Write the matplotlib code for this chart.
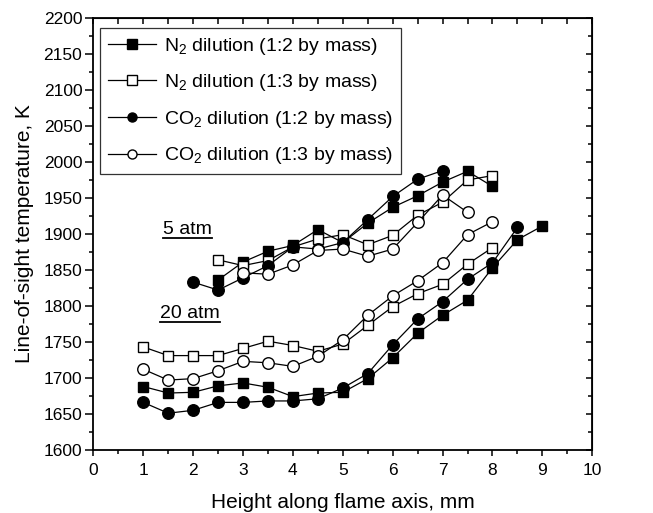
import numpy as np
import matplotlib
matplotlib.use("Agg")
import matplotlib.pyplot as plt
from matplotlib.ticker import MultipleLocator

plt.rcParams["font.family"] = ["Liberation Sans", "DejaVu Sans"]
plt.rcParams["mathtext.fontset"] = "custom"
plt.rcParams["mathtext.rm"] = "Liberation Sans"
plt.rcParams["mathtext.it"] = "Liberation Sans:italic"

# 5 atm data
x5_n2_12 = [2.5, 3, 3.5, 4, 4.5, 5, 5.5, 6, 6.5, 7, 7.5, 8]
t5_n2_12 = [1836, 1861, 1876, 1884, 1906, 1888, 1915, 1937, 1953, 1972, 1987, 1966]
x5_n2_13 = [2.5, 3, 3.5, 4, 4.5, 5, 5.5, 6, 6.5, 7, 7.5, 8]
t5_n2_13 = [1864, 1856, 1863, 1882, 1893, 1899, 1885, 1898, 1926, 1944, 1975, 1981]
x5_co2_12 = [2, 2.5, 3, 3.5, 4, 4.5, 5, 5.5, 6, 6.5, 7]
t5_co2_12 = [1833, 1822, 1839, 1856, 1882, 1879, 1888, 1920, 1952, 1976, 1988]
x5_co2_13 = [3, 3.5, 4, 4.5, 5, 5.5, 6, 6.5, 7, 7.5]
t5_co2_13 = [1846, 1844, 1857, 1877, 1879, 1869, 1879, 1916, 1954, 1930]

# 20 atm data
x20_n2_12 = [1, 1.5, 2, 2.5, 3, 3.5, 4, 4.5, 5, 5.5, 6, 6.5, 7, 7.5, 8, 8.5, 9]
t20_n2_12 = [1688, 1679, 1680, 1689, 1693, 1687, 1674, 1679, 1680, 1699, 1728,
             1762, 1787, 1808, 1853, 1892, 1911]
x20_n2_13 = [1, 1.5, 2, 2.5, 3, 3.5, 4, 4.5, 5, 5.5, 6, 6.5, 7, 7.5, 8]
t20_n2_13 = [1743, 1731, 1731, 1731, 1741, 1751, 1745, 1737, 1747, 1773, 1799,
             1817, 1830, 1858, 1881]
x20_co2_12 = [1, 1.5, 2, 2.5, 3, 3.5, 4, 4.5, 5, 5.5, 6, 6.5, 7, 7.5, 8, 8.5]
t20_co2_12 = [1666, 1651, 1655, 1666, 1666, 1668, 1668, 1671, 1686, 1706, 1746,
              1782, 1806, 1837, 1860, 1909]
x20_co2_13 = [1, 1.5, 2, 2.5, 3, 3.5, 4, 4.5, 5, 5.5, 6, 6.5, 7, 7.5, 8]
t20_co2_13 = [1712, 1697, 1699, 1710, 1723, 1721, 1716, 1730, 1753, 1787, 1814,
              1835, 1860, 1899, 1917]

labels = [r"N$_2$ dilution (1:2 by mass)", r"N$_2$ dilution (1:3 by mass)",
          r"CO$_2$ dilution (1:2 by mass)", r"CO$_2$ dilution (1:3 by mass)"]

fig = plt.figure(figsize=(6.53, 5.13), dpi=100)
ax = fig.add_axes([0.143, 0.123, 0.764, 0.842])

sq = dict(marker="s", markersize=7.5, color="black", linewidth=0.9, markeredgewidth=1.0)
ci = dict(marker="o", markersize=8.3, color="black", linewidth=0.9, markeredgewidth=1.0)

ax.plot(x5_n2_12, t5_n2_12, markerfacecolor="black", label=labels[0], **sq)
ax.plot(x5_n2_13, t5_n2_13, markerfacecolor="white", label=labels[1], **sq)
ax.plot(x5_co2_12, t5_co2_12, markerfacecolor="black", label=labels[2], **ci)
ax.plot(x5_co2_13, t5_co2_13, markerfacecolor="white", label=labels[3], **ci)

ax.plot(x20_n2_13, t20_n2_13, markerfacecolor="white", **sq)
ax.plot(x20_co2_13, t20_co2_13, markerfacecolor="white", **ci)
ax.plot(x20_n2_12, t20_n2_12, markerfacecolor="black", **sq)
ax.plot(x20_co2_12, t20_co2_12, markerfacecolor="black", **ci)

ax.set_xlim(0, 10)
ax.set_ylim(1600, 2200)
ax.xaxis.set_major_locator(MultipleLocator(1))
ax.xaxis.set_minor_locator(MultipleLocator(0.5))
ax.yaxis.set_major_locator(MultipleLocator(50))
ax.yaxis.set_minor_locator(MultipleLocator(25))

# left/bottom ticks point outward
ax.tick_params(which="both", direction="out", labelsize=12.5, width=1.1)
ax.tick_params(axis="y", which="major", length=6, pad=2)
ax.tick_params(axis="y", which="minor", length=3)
ax.tick_params(axis="x", which="major", length=4.5, pad=5)
ax.tick_params(axis="x", which="minor", length=3)
for s in ax.spines.values():
    s.set_linewidth(1.3)

# top/right ticks point inward
top = ax.secondary_xaxis("top")
top.xaxis.set_major_locator(MultipleLocator(1))
top.xaxis.set_minor_locator(MultipleLocator(0.5))
top.tick_params(which="both", direction="in", length=4, width=1.1, labeltop=False)
right = ax.secondary_yaxis("right")
right.yaxis.set_major_locator(MultipleLocator(50))
right.yaxis.set_minor_locator(MultipleLocator(25))
right.tick_params(which="major", direction="in", length=4, width=1.1, labelright=False)
right.tick_params(which="minor", direction="in", length=3, width=1.1)

ax.set_xlabel("Height along flame axis, mm", fontsize=15)
ax.set_ylabel("Line-of-sight temperature, K", fontsize=15)
ax.xaxis.set_label_coords(0.5, -0.1)
ax.yaxis.set_label_coords(-0.12, 0.5)

# underlined pressure labels
fig.canvas.draw()
r = fig.canvas.get_renderer()
for txt, (tx, ty) in [("5 atm", (1.4, 1906)), ("20 atm", (1.34, 1789))]:
    t = ax.text(tx, ty, txt, fontsize=14, va="center", ha="left")
    bb = t.get_window_extent(renderer=r).transformed(ax.transData.inverted())
    ax.plot([bb.x0, bb.x1], [bb.y0, bb.y0], color="black", linewidth=1.3)

leg = ax.legend(loc="upper left", bbox_to_anchor=(0.013, 0.977), fontsize=14,
                frameon=True, fancybox=False, edgecolor="black", handlelength=2.5,
                handletextpad=0.4, borderpad=0.4, labelspacing=0.8,
                borderaxespad=0.0)
leg.get_frame().set_linewidth(0.9)
for h in leg.legend_handles:
    h.set_markersize(6.5)

fig.savefig("out.png", dpi=100)
